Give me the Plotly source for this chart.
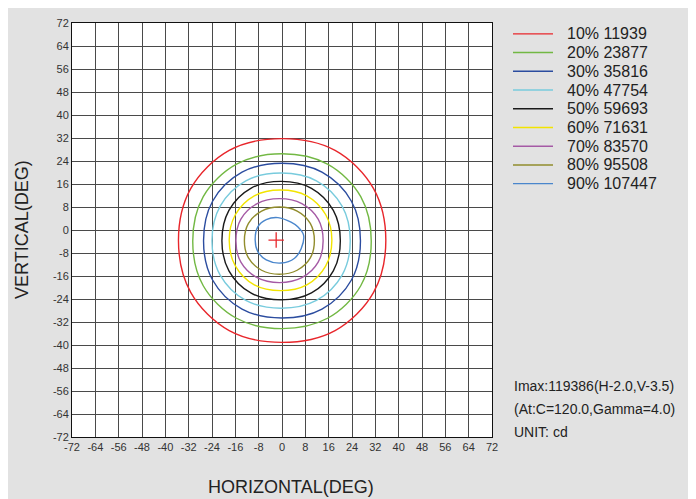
import plotly.graph_objects as go

# ---------------- data ----------------
levels = ["10%", "20%", "30%", "40%", "50%", "60%", "70%", "80%", "90%"]
level_values = [11939, 23877, 35816, 47754, 59693, 71631, 83570, 95508, 107447]
colors = ["#e8262b", "#72b843", "#2b4c9f", "#78cbdd", "#1a1a1a",
          "#f2e400", "#a55aa5", "#918c2c", "#4a86cc"]

# contour points (H deg, V deg), counter-clockwise starting East, every ~30 deg
H_10 = [35.6, 31.4, 18.2, 0.0, -18.1, -31.3, -35.5, -31.3, -18.1, 0.0, 18.2, 31.4]
V_10 = [-3.6, 14.4, 27.7, 31.8, 27.7, 14.4, -3.6, -21.7, -35.0, -39.1, -35.0, -21.7]
H_20 = [30.6, 27.0, 15.6, 0.0, -15.6, -27.0, -30.6, -27.0, -15.6, 0.0, 15.6, 27.0]
V_20 = [-3.9, 11.6, 22.9, 26.5, 22.9, 11.6, -3.9, -19.4, -30.7, -34.3, -30.7, -19.4]
H_30 = [26.9, 23.8, 13.7, 0.0, -13.7, -23.8, -26.9, -23.8, -13.7, 0.0, 13.7, 23.8]
V_30 = [-3.7, 10.0, 20.1, 23.2, 20.1, 10.0, -3.7, -17.4, -27.5, -30.6, -27.5, -17.4]
H_40 = [23.4, 20.6, 11.8, -0.3, -12.4, -21.2, -24.0, -21.2, -12.4, -0.3, 11.8, 20.6]
V_40 = [-3.7, 8.3, 17.1, 19.8, 17.1, 8.3, -3.7, -15.7, -24.5, -27.2, -24.5, -15.7]
H_50 = [20.0, 17.6, 10.1, -0.3, -10.7, -18.2, -20.6, -18.2, -10.7, -0.3, 10.1, 17.6]
V_50 = [-3.7, 6.8, 14.5, 16.9, 14.5, 6.8, -3.7, -14.2, -21.9, -24.3, -21.9, -14.2]
H_60 = [17.1, 15.0, 8.5, -0.5, -9.5, -16.0, -18.1, -16.0, -9.5, -0.5, 8.5, 15.0]
V_60 = [-3.6, 5.3, 11.9, 13.9, 11.9, 5.3, -3.6, -12.5, -19.1, -21.1, -19.1, -12.5]
H_70 = [14.1, 12.4, 6.8, -0.9, -8.5, -14.1, -15.8, -14.1, -8.5, -0.9, 6.8, 12.4]
V_70 = [-3.7, 3.8, 9.2, 10.9, 9.2, 3.8, -3.7, -11.2, -16.6, -18.3, -16.6, -11.2]
H_80 = [11.1, 9.7, 5.2, -0.9, -7.0, -11.5, -12.9, -11.5, -7.0, -0.9, 5.2, 9.7]
V_80 = [-3.7, 2.3, 6.6, 8.0, 6.6, 2.3, -3.7, -9.7, -14.0, -15.4, -14.0, -9.7]
H_90 = [7.4, 5.4, 3.1, -1.4, -5.4, -8.3, -9.2, -8.3, -5.4, -0.3, 4.3, 6.6]
V_90 = [-1.8, 1.1, 2.7, 4.3, 3.6, 1.1, -3.5, -7.5, -10.4, -11.5, -9.8, -6.4]

contours_H = [H_10, H_20, H_30, H_40, H_50, H_60, H_70, H_80, H_90]
contours_V = [V_10, V_20, V_30, V_40, V_50, V_60, V_70, V_80, V_90]

imax_H = [-2.0]
imax_V = [-3.5]
info_lines = ["Imax:119386(H-2.0,V-3.5)", "(At:C=120.0,Gamma=4.0)", "UNIT: cd"]
ticks = list(range(-72, 73, 8))

# ---------------- figure ----------------
# page body has an 8px default margin, so the figure is drawn 8px in
OFF = 8
W, H = 696 - OFF, 499 - OFF
L, T = 72 - OFF, 17 - OFF
PW, PH = 420, 420
R = W - L - PW
B = H - T - PH
FONT = "Liberation Sans, Arial, sans-serif"


def px_x(px):
    # px: page pixel in reference coordinates
    return (px - OFF - L) / PW


def px_y(py):
    return (T + PH - (py - OFF)) / PH


fig = go.Figure()
for i in range(len(levels)):
    hx = contours_H[i] + contours_H[i][:1]
    vy = contours_V[i] + contours_V[i][:1]
    fig.add_trace(go.Scatter(
        x=hx, y=vy, mode="lines",
        line=dict(color=colors[i], width=1.4, shape="spline", smoothing=1.0),
        name=f"{levels[i]} {level_values[i]}", showlegend=False,
        hoverinfo="skip"))

fig.add_trace(go.Scatter(
    x=imax_H, y=imax_V, mode="markers",
    marker=dict(symbol="cross-thin", size=11, line=dict(color="#e8262b", width=1.3)),
    showlegend=False, hoverinfo="skip"))

axis_common = dict(
    range=[-72, 72], tickvals=ticks, ticktext=[str(t) for t in ticks],
    showgrid=True, gridcolor="#4a4a4a", gridwidth=1, zeroline=False,
    showline=True, linecolor="#111111", linewidth=1, mirror=True,
    ticks="", tickfont=dict(family=FONT, size=11, color="#333333"),
    fixedrange=True)

fig.update_layout(
    width=W, height=H,
    margin=dict(l=L, r=R, t=T, b=B, pad=0),
    paper_bgcolor="#e2e2e2", plot_bgcolor="#ffffff",
    xaxis=axis_common, yaxis=axis_common,
    showlegend=False,
    font=dict(family=FONT, color="#222222"),
)

shapes = []
annotations = []
for i in range(len(levels)):
    py = 28 + 19 * i
    shapes.append(dict(type="line", xref="paper", yref="paper",
                       x0=px_x(513), x1=px_x(553), y0=px_y(py), y1=px_y(py),
                       line=dict(color=colors[i], width=1.4)))
    annotations.append(dict(xref="paper", yref="paper", x=px_x(565), y=px_y(py),
                            xanchor="left", yanchor="middle", showarrow=False,
                            text=f"{levels[i]} {level_values[i]}",
                            font=dict(family=FONT, size=16, color="#222222")))

for j, line in enumerate(info_lines):
    py = 385 + 23.5 * j
    annotations.append(dict(xref="paper", yref="paper", x=px_x(512), y=px_y(py),
                            xanchor="left", yanchor="middle", showarrow=False,
                            text=line, font=dict(family=FONT, size=14, color="#222222")))

annotations.append(dict(xref="paper", yref="paper", x=px_x(291), y=px_y(488),
                        xanchor="center", yanchor="middle", showarrow=False,
                        text="HORIZONTAL(DEG)",
                        font=dict(family=FONT, size=18, color="#222222")))
annotations.append(dict(xref="paper", yref="paper", x=px_x(22), y=px_y(227),
                        xanchor="center", yanchor="middle", showarrow=False,
                        textangle=-90, text="VERTICAL(DEG)",
                        font=dict(family=FONT, size=18, color="#222222")))

fig.update_layout(shapes=shapes, annotations=annotations)
fig.write_html("out.html")
